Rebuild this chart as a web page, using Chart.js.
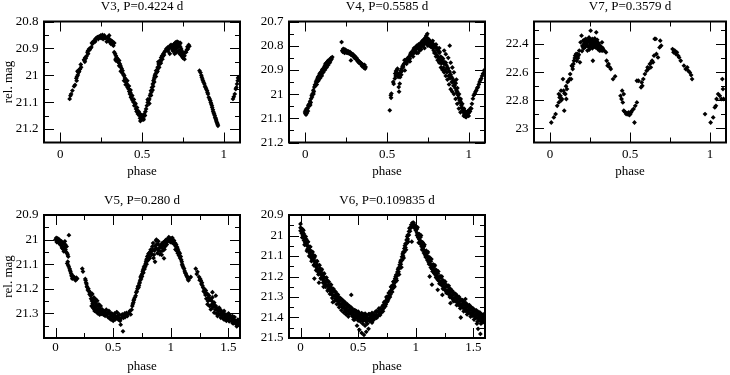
<!DOCTYPE html>
<html><head><meta charset="utf-8">
<script src="https://cdn.jsdelivr.net/npm/chart.js@4/dist/chart.umd.min.js"></script>
<style>
html,body{margin:0;padding:0;background:#fff;width:730px;height:375px;overflow:hidden}
canvas{position:absolute;display:block}
</style></head><body>
<canvas id="c1" width="245" height="190" style="left:0px;top:0px"></canvas>
<canvas id="c2" width="245" height="190" style="left:245px;top:0px"></canvas>
<canvas id="c3" width="240" height="190" style="left:490px;top:0px"></canvas>
<canvas id="c4" width="245" height="181" style="left:0px;top:194px"></canvas>
<canvas id="c5" width="245" height="181" style="left:245px;top:194px"></canvas>
<script>
// ---------------- data ----------------
const titles = ["V3, P=0.4224 d", "V4, P=0.5585 d", "V7, P=0.3579 d", "V5, P=0.280 d", "V6, P=0.109835 d"];
const xTicksTop = [0, 0.5, 1];
const xTicksBottom = [0, 0.5, 1, 1.5];
const v3YTicks = [20.8, 20.9, 21, 21.1, 21.2];
const v4YTicks = [20.7, 20.8, 20.9, 21, 21.1, 21.2];
const v7YTicks = [22.4, 22.6, 22.8, 23];
const v5YTicks = [20.9, 21, 21.1, 21.2, 21.3];
const v6YTicks = [20.9, 21, 21.1, 21.2, 21.3, 21.4, 21.5];

// [phase, relative magnitude]
const v3Points = [
[0.057,21.088],[0.062,21.076],[0.066,21.07],[0.074,21.057],[0.084,21.041],[0.090,21.036],
[0.098,21.011],[0.102,21.005],[0.107,20.999],[0.111,20.99],[0.115,20.986],[0.119,20.978],[0.121,20.976],[0.127,20.970],
[0.145,20.942],[0.148,20.945],[0.152,20.934],[0.156,20.937],[0.160,20.929],
[0.166,20.914],[0.170,20.908],[0.176,20.902],[0.180,20.905],[0.186,20.899],
[0.193,20.88],[0.197,20.883],[0.201,20.875],[0.205,20.877],[0.209,20.871],[0.213,20.875],[0.217,20.865],
[0.222,20.862],[0.227,20.858],[0.232,20.865],[0.238,20.855],[0.243,20.86],[0.248,20.852],[0.253,20.858],[0.258,20.850],
[0.262,20.865],[0.268,20.855],[0.273,20.862],[0.279,20.862],[0.284,20.875],[0.289,20.858],[0.294,20.87],[0.299,20.852],
[0.304,20.877],[0.309,20.883],[0.314,20.872],[0.320,20.875],[0.325,20.89],[0.330,20.88],
[0.10,21.02],[0.105,20.985],[0.125,20.96],[0.15,20.95],[0.17,20.92],[0.19,20.895],[0.215,20.865],[0.25,20.862],
[0.27,20.852],[0.30,20.865],[0.32,20.885],
[0.330,20.914],[0.335,20.92],[0.340,20.927],[0.338,20.94],[0.345,20.934],[0.350,20.939],[0.352,20.95],[0.357,20.952],
[0.360,20.945],[0.365,20.958],[0.368,20.965],[0.371,20.97],[0.376,20.976],[0.381,20.983],[0.378,20.99],[0.385,20.995],
[0.388,21.0],[0.391,21.001],[0.395,21.01],[0.398,21.014],[0.402,21.026],[0.405,21.02],[0.408,21.032],[0.412,21.045],
[0.415,21.04],[0.418,21.051],[0.422,21.06],[0.426,21.07],[0.429,21.065],[0.432,21.082],[0.436,21.08],[0.439,21.088],
[0.443,21.094],[0.448,21.1],[0.453,21.113],[0.458,21.11],[0.463,21.125],[0.467,21.135],[0.471,21.13],[0.475,21.144],
[0.479,21.14],[0.484,21.15],[0.488,21.16],[0.494,21.157],[0.498,21.148],[0.504,21.153],[0.508,21.16],[0.514,21.144],
[0.518,21.15],[0.521,21.135],[0.525,21.125],
[0.34,20.945],[0.36,20.965],[0.37,20.985],[0.39,21.02],[0.40,21.035],[0.41,21.02],[0.42,21.04],[0.43,21.055],
[0.44,21.075],[0.45,21.09],[0.46,21.105],[0.47,21.12],[0.48,21.135],[0.49,21.145],[0.50,21.165],[0.51,21.165],[0.49,21.17],
[0.530,21.113],[0.535,21.101],[0.540,21.094],[0.545,21.088],[0.549,21.076],[0.552,21.07],[0.555,21.057],[0.558,21.062],
[0.561,21.045],[0.566,21.032],[0.568,21.041],[0.570,21.02],[0.574,21.014],[0.576,21.007],[0.579,21.0],[0.582,20.995],
[0.586,20.983],[0.590,20.99],[0.596,20.97],[0.599,20.975],[0.602,20.958],[0.606,20.96],[0.611,20.945],[0.614,20.95],
[0.617,20.934],[0.623,20.927],[0.627,20.93],[0.631,20.92],[0.637,20.914],[0.642,20.91],[0.648,20.902],[0.653,20.907],
[0.535,21.09],[0.545,21.105],[0.555,21.075],[0.565,21.055],[0.575,21.025],[0.585,21.005],[0.595,20.985],[0.605,20.97],
[0.615,20.955],[0.625,20.94],[0.635,20.925],[0.60,20.95],
[0.658,20.896],[0.663,20.9],[0.668,20.899],[0.672,20.89],[0.678,20.887],[0.683,20.895],[0.689,20.892],[0.694,20.885],
[0.699,20.883],[0.704,20.893],[0.709,20.889],[0.714,20.88],[0.719,20.88],[0.724,20.892],[0.730,20.887],[0.735,20.895],
[0.740,20.902],[0.744,20.91],[0.748,20.916],[0.752,20.922],[0.756,20.929],[0.760,20.927],[0.765,20.914],[0.770,20.914],
[0.775,20.905],[0.778,20.894],[0.781,20.902],[0.786,20.887],[0.790,20.892],[0.700,20.905],[0.710,20.9],[0.720,20.895],
[0.728,20.908],[0.738,20.912],[0.686,20.905],
[0.66,20.91],[0.67,20.92],[0.69,20.91],[0.70,20.92],[0.71,20.915],[0.72,20.91],[0.73,20.92],[0.74,20.925],
[0.75,20.935],[0.76,20.94],[0.755,20.92],[0.745,20.93],[0.735,20.88],[0.725,20.878],[0.715,20.875],[0.705,20.878],[0.695,20.9],
[0.852,20.983],[0.858,20.99],[0.863,21.0],[0.866,21.007],[0.870,21.014],[0.873,21.02],[0.877,21.026],[0.882,21.032],
[0.886,21.041],[0.889,21.045],[0.893,21.051],[0.898,21.057],[0.901,21.064],[0.904,21.07],[0.909,21.082],[0.914,21.088],
[0.918,21.094],[0.921,21.101],[0.924,21.107],[0.928,21.113],[0.930,21.12],[0.934,21.128],[0.936,21.135],[0.939,21.14],
[0.942,21.144],[0.945,21.15],[0.948,21.157],[0.951,21.16],[0.953,21.165],[0.955,21.17],[0.958,21.175],[0.961,21.178],
[0.963,21.183],[0.965,21.188],
[1.057,21.088],[1.062,21.08],[1.068,21.07],[1.074,21.051],[1.078,21.045],[1.082,21.032],[1.086,21.02],[1.088,21.01],[1.092,21.007]
];

const v4Points = [
[-0.002,21.074],[0.0,21.08],[0.002,21.067],[0.004,21.085],[0.006,21.072],[0.008,21.06],[0.01,21.078],[0.014,21.06],
[0.016,21.07],[0.018,21.046],[0.022,21.05],[0.026,21.039],[0.029,21.03],[0.033,21.035],[0.035,21.019],[0.039,21.005],
[0.041,21.012],[0.045,20.998],[0.049,20.984],[0.052,20.99],[0.055,20.971],[0.059,20.961],[0.062,20.966],[0.065,20.95],
[0.069,20.943],[0.072,20.948],[0.075,20.936],[0.077,20.93],[0.079,20.929],[0.082,20.935],[0.084,20.923],[0.086,20.93],
[0.088,20.915],[0.09,20.92],[0.092,20.928],[0.094,20.91],[0.096,20.912],[0.098,20.922],[0.1,20.906],[0.102,20.915],
[0.104,20.898],[0.107,20.905],[0.11,20.895],[0.113,20.9],[0.116,20.888],[0.118,20.895],[0.12,20.881],[0.122,20.89],
[0.124,20.874],[0.127,20.88],[0.13,20.87],[0.133,20.875],[0.136,20.865],[0.139,20.87],[0.141,20.861],[0.146,20.865],
[0.151,20.857],[0.154,20.862],[0.157,20.851],[0.161,20.855],[0.165,20.847],
[0.03,21.045],[0.05,21.0],[0.07,20.96],[0.08,20.945],[0.09,20.935],[0.1,20.925],[0.11,20.91],[0.12,20.9],
[0.13,20.89],[0.14,20.88],[0.15,20.87],
[0.222,20.785],[0.226,20.82],[0.229,20.825],[0.232,20.813],[0.236,20.82],[0.24,20.83],[0.242,20.815],[0.246,20.822],
[0.25,20.828],[0.253,20.82],[0.257,20.83],[0.26,20.825],[0.263,20.824],[0.267,20.832],[0.27,20.828],[0.273,20.826],
[0.276,20.835],[0.279,20.861],[0.281,20.838],[0.283,20.833],[0.287,20.84],[0.29,20.835],[0.293,20.837],[0.297,20.845],
[0.3,20.85],[0.303,20.843],[0.307,20.848],[0.31,20.855],[0.314,20.851],[0.318,20.858],[0.321,20.865],[0.324,20.861],
[0.328,20.87],[0.331,20.866],[0.334,20.868],[0.338,20.876],[0.341,20.872],[0.344,20.874],[0.348,20.885],[0.351,20.878],
[0.354,20.881],[0.358,20.89],[0.362,20.879],[0.366,20.895],[0.369,20.888],
[0.517,21.067],[0.523,21.005],[0.527,20.998],[0.525,21.015],[0.538,20.95],[0.541,20.958],[0.548,20.936],[0.55,20.915],
[0.553,20.925],[0.555,20.905],[0.558,20.909],[0.561,20.9],[0.564,20.895],[0.566,20.915],[0.568,20.929],[0.57,20.92],
[0.572,20.971],[0.574,20.99],[0.578,20.957],[0.58,20.93],[0.583,20.91],[0.585,20.902],[0.587,20.92],[0.589,20.895],
[0.592,20.905],[0.595,20.885],[0.599,20.888],[0.602,20.878],[0.605,20.874],[0.607,20.86],[0.609,20.902],[0.612,20.87],
[0.615,20.86],[0.619,20.867],[0.622,20.855],[0.625,20.865],[0.629,20.861],[0.632,20.85],[0.635,20.845],[0.64,20.854],
[0.643,20.835],[0.646,20.83],[0.65,20.84],[0.653,20.825],[0.656,20.835],[0.66,20.833],[0.663,20.815],[0.666,20.81],
[0.67,20.82],[0.673,20.825],[0.676,20.805],[0.68,20.813],[0.683,20.8],[0.686,20.81],[0.69,20.806],[0.693,20.795],
[0.697,20.815],[0.701,20.799],[0.704,20.79],[0.707,20.805],[0.711,20.792],[0.714,20.782],[0.717,20.8],[0.721,20.785],
[0.724,20.775],[0.727,20.795],[0.731,20.771],[0.734,20.785],[0.737,20.765],[0.741,20.758],[0.744,20.78],[0.747,20.751],
[0.75,20.77],[0.753,20.79],[0.757,20.775],[0.76,20.8],[0.763,20.78],[0.766,20.795],[0.769,20.805],
[0.62,20.875],[0.64,20.865],[0.66,20.845],[0.68,20.83],[0.70,20.82],[0.72,20.8],[0.74,20.79],[0.76,20.785],
[0.78,20.78],[0.80,20.795],[0.82,20.81],[0.69,20.83],[0.71,20.815],[0.73,20.81],[0.75,20.8],
[0.772,20.785],[0.775,20.8],[0.779,20.81],[0.782,20.792],[0.786,20.82],[0.789,20.805],[0.792,20.799],[0.796,20.83],
[0.799,20.81],[0.802,20.806],[0.806,20.84],[0.809,20.82],[0.813,20.813],[0.816,20.85],[0.819,20.83],[0.823,20.826],
[0.826,20.86],[0.829,20.845],[0.833,20.874],[0.836,20.85],[0.84,20.865],[0.843,20.854],[0.846,20.89],[0.85,20.875],
[0.853,20.868],[0.857,20.9],[0.86,20.87],[0.864,20.881],[0.867,20.91],[0.87,20.89],[0.874,20.895],[0.877,20.925],
[0.88,20.905],[0.884,20.909],[0.886,20.935],[0.884,20.8],[0.89,20.92],[0.894,20.929],[0.897,20.95],[0.9,20.935],
[0.904,20.95],[0.907,20.965],[0.91,20.945],[0.914,20.964],[0.918,20.975],[0.921,20.955],[0.925,20.984],[0.928,20.995],
[0.931,20.975],[0.935,21.005],[0.938,21.015],[0.941,21.0],[0.945,21.026],[0.948,21.035],[0.951,21.02],[0.955,21.046],
[0.958,21.055],[0.961,21.04],[0.965,21.067],[0.968,21.075],[0.971,21.06],[0.974,21.085],[0.976,21.081],[0.979,21.07],
[0.98,21.094],[0.983,21.08],[0.986,21.088],[0.99,21.075],[0.993,21.085],[0.996,21.07],[1.0,21.078],[1.004,21.065],
[1.008,21.072],[1.012,21.058],[1.016,21.06],
[0.85,20.82],[0.86,20.835],[0.875,20.85],[0.89,20.87],[0.9,20.89],[0.91,20.91],[0.925,20.94],
[0.79,20.83],[0.80,20.845],[0.81,20.86],[0.82,20.87],[0.83,20.89],[0.84,20.9],[0.85,20.91],[0.86,20.925],
[0.87,20.94],[0.88,20.96],[0.89,20.98],[0.90,20.99],[0.91,21.0],[0.92,21.02],[0.93,21.04],[0.94,21.06],[0.95,21.075],
[0.93,20.99],[0.95,21.03],[0.96,21.06],[0.97,21.09],[0.985,21.095],[1.0,21.09],
[1.02,21.04],[1.026,21.019],[1.031,21.005],[1.037,20.998],[1.042,20.99],[1.047,20.984],[1.052,20.975],[1.057,20.971],
[1.062,20.96],[1.067,20.95],[1.072,20.942],[1.077,20.936],[1.082,20.925],[1.088,20.915],[1.094,20.902]
];

const v7Points = [
[0.008,22.958],[0.024,22.922],[0.035,22.898],[0.045,22.839],[0.055,22.815],[0.055,22.756],[0.065,22.768],[0.069,22.732],
[0.075,22.791],[0.081,22.649],[0.085,22.732],[0.089,22.874],[0.096,22.756],[0.102,22.791],[0.106,22.72],[0.116,22.661],
[0.122,22.649],[0.126,22.614],[0.132,22.649],[0.136,22.554],[0.142,22.578],[0.146,22.542],[0.15,22.519],[0.157,22.483],
[0.163,22.471],[0.167,22.519],[0.171,22.471],[0.177,22.483],[0.183,22.447],[0.187,22.53],[0.191,22.388],[0.197,22.341],
[0.203,22.412],[0.207,22.376],[0.213,22.4],[0.217,22.424],[0.224,22.364],[0.228,22.388],[0.234,22.447],[0.238,22.376],
[0.244,22.353],[0.248,22.412],[0.254,22.305],[0.258,22.424],[0.264,22.364],[0.268,22.519],[0.272,22.388],[0.278,22.412],
[0.285,22.424],[0.289,22.317],[0.293,22.4],[0.299,22.436],[0.305,22.4],[0.309,22.447],[0.319,22.447],[0.325,22.388],
[0.329,22.447],[0.339,22.447],[0.35,22.459],[0.354,22.519],[0.36,22.554],[0.366,22.542],[0.374,22.566],[0.38,22.578],
[0.394,22.649],[0.407,22.63],
[0.26,22.38],[0.27,22.37],[0.275,22.39],[0.28,22.36],[0.25,22.39],[0.255,22.37],[0.262,22.41],[0.23,22.405],[0.22,22.39],
[0.24,22.42],[0.285,22.38],[0.29,22.41],[0.265,22.43],[0.245,22.44],[0.3,22.42],[0.31,22.43],[0.315,22.44],[0.2,22.45],
[0.21,22.43],[0.18,22.475],[0.175,22.5],[0.165,22.49],[0.155,22.5],[0.14,22.56],[0.11,22.67],[0.1,22.7],[0.09,22.75],
[0.06,22.78],[0.07,22.8],
[0.22,22.42],[0.235,22.39],[0.245,22.36],[0.255,22.4],[0.265,22.39],[0.275,22.42],[0.28,22.4],[0.29,22.39],
[0.295,22.37],[0.30,22.39],[0.31,22.41],[0.32,22.42],[0.33,22.43],[0.215,22.37],[0.205,22.42],
[0.451,22.732],[0.461,22.756],[0.441,22.768],[0.447,22.791],[0.455,22.815],[0.461,22.874],[0.472,22.886],[0.482,22.891],
[0.492,22.886],[0.502,22.898],[0.512,22.874],[0.522,22.862],[0.528,22.958],[0.533,22.839],[0.543,22.815],[0.476,22.898],
[0.496,22.905],[0.466,22.88],[0.487,22.9],[0.507,22.885],
[0.543,22.661],[0.553,22.661],[0.569,22.708],[0.573,22.673],[0.577,22.697],[0.583,22.649],[0.593,22.614],[0.604,22.59],
[0.61,22.566],[0.614,22.578],[0.624,22.542],[0.63,22.566],[0.634,22.53],[0.638,22.519],[0.644,22.53],[0.65,22.483],
[0.654,22.364],[0.661,22.364],[0.665,22.471],[0.675,22.495],[0.685,22.424],[0.689,22.376],[0.695,22.412],
[0.766,22.436],[0.772,22.459],[0.78,22.447],[0.787,22.471],[0.793,22.459],[0.801,22.483],[0.807,22.495],[0.817,22.519],
[0.837,22.554],[0.848,22.578],[0.858,22.566],[0.864,22.59],[0.874,22.602],[0.882,22.621],[0.888,22.649],[0.776,22.45],
[0.969,22.898],[1.004,22.958],[1.02,22.922],[1.03,22.851],[1.041,22.791],[1.051,22.756],[1.061,22.768],[1.071,22.791],
[1.077,22.649],[1.081,22.72],[1.085,22.791],[1.037,22.839]
];

const v5Points = [
[0.0,21.0],[0.006,20.993],[0.01,21.01],[0.014,21.007],[0.018,20.995],[0.023,21.0],[0.026,21.012],[0.029,21.014],
[0.032,21.0],[0.038,21.004],[0.041,21.018],[0.043,21.021],[0.047,21.01],[0.052,21.007],[0.055,21.03],[0.058,21.035],
[0.061,21.02],[0.064,21.014],[0.068,21.04],[0.072,21.048],[0.075,21.03],[0.081,21.007],[0.084,21.02],[0.087,21.041],
[0.09,21.05],[0.096,21.028],[0.101,21.055],[0.105,21.062],[0.11,21.069],[0.116,20.982],[0.101,21.097],[0.106,21.09],
[0.11,21.104],[0.115,21.11],[0.122,21.118],[0.126,21.125],[0.13,21.131],[0.135,21.138],[0.139,21.145],[0.142,21.15],
[0.145,21.159],[0.15,21.148],[0.159,21.152],[0.165,21.16],[0.174,21.166],[0.18,21.155],[0.188,21.159],[0.232,21.118],
[0.238,21.13],
[0.258,21.16],[0.261,21.166],[0.265,21.175],[0.269,21.18],[0.272,21.19],[0.275,21.194],[0.28,21.205],[0.285,21.2],
[0.29,21.21],[0.295,21.222],[0.3,21.214],[0.304,21.228],[0.308,21.24],[0.31,21.225],[0.313,21.27],[0.316,21.25],
[0.319,21.221],[0.322,21.26],[0.324,21.277],[0.328,21.245],[0.33,21.268],[0.333,21.235],[0.336,21.282],[0.339,21.29],
[0.342,21.255],[0.345,21.275],[0.348,21.242],[0.35,21.285],[0.353,21.263],[0.356,21.295],[0.36,21.27],[0.362,21.249],
[0.365,21.285],[0.368,21.3],[0.371,21.284],[0.374,21.27],[0.376,21.263],[0.38,21.292],[0.383,21.305],[0.385,21.297],
[0.388,21.28],[0.391,21.27],[0.395,21.29],[0.4,21.302],[0.405,21.284],[0.41,21.295],[0.415,21.305],[0.42,21.29],
[0.425,21.3],[0.43,21.31],[0.434,21.297],[0.44,21.285],[0.445,21.3],[0.449,21.304],[0.455,21.315],[0.46,21.295],
[0.463,21.29],[0.468,21.32],[0.472,21.3],[0.478,21.311],[0.482,21.325],[0.487,21.3],[0.492,21.304],[0.497,21.315],
[0.5,21.33],[0.503,21.308],[0.507,21.318],[0.512,21.3],[0.516,21.325],[0.521,21.311],[0.526,21.32],[0.53,21.295],
[0.536,21.297],[0.54,21.31],[0.545,21.325],[0.55,21.318],[0.555,21.305],[0.56,21.33],[0.565,21.346],[0.57,21.32],
[0.575,21.31],[0.579,21.304],[0.585,21.373],[0.59,21.318],[0.594,21.311],[0.6,21.3],[0.604,21.315],[0.608,21.304],
[0.615,21.298],[0.623,21.311],[0.63,21.3],[0.637,21.297],[0.645,21.29],[0.652,21.304],[0.66,21.285],[0.666,21.27],
[0.67,21.262],[0.675,21.256],[0.678,21.248],[0.681,21.242],[0.688,21.235],[0.695,21.228],[0.7,21.215],[0.705,21.21],
[0.71,21.2],[0.715,21.19],[0.72,21.195],[0.724,21.187],[0.727,21.178],[0.73,21.173],[0.734,21.165],[0.738,21.152],
[0.742,21.16],[0.745,21.145],[0.75,21.15],[0.753,21.138],[0.756,21.13],[0.759,21.124],[0.762,21.135],[0.765,21.118],
[0.767,21.111],[0.772,21.12],[0.775,21.105],[0.778,21.11],[0.782,21.097],[0.785,21.09],[0.788,21.083],[0.79,21.1],
[0.793,21.078],[0.796,21.069],[0.8,21.085],[0.803,21.065],[0.806,21.058],[0.811,21.055],[0.814,21.07],[0.817,21.076],
[0.82,21.05],[0.825,21.041],[0.829,21.055],[0.834,21.062],[0.837,21.045],[0.84,21.028],[0.843,21.04],[0.846,21.014],
[0.85,21.075],[0.854,21.062],[0.858,21.045],[0.863,21.09],[0.866,21.025],[0.869,21.035],[0.872,21.005],[0.875,21.0],
[0.878,21.02],[0.883,21.055],[0.886,21.04],[0.89,21.018],[0.892,21.007],[0.895,21.045],[0.898,21.035],[0.905,21.06],
[0.908,21.025],[0.912,21.048],[0.916,21.03],[0.921,21.062],[0.924,21.015],[0.927,21.035],[0.93,21.045],[0.933,21.021],
[0.937,21.01],[0.941,21.076],[0.945,21.04],[0.95,21.028],[0.953,21.005],[0.956,21.014],[0.96,21.0],[0.965,21.02],
[0.97,21.007],[0.974,20.998],[0.979,21.0],[0.982,20.99],[0.985,21.007],[0.99,20.993],[0.994,21.0],[0.997,21.01],
[1.0,21.0],[1.004,20.995],[1.008,21.007],[1.011,21.012],[1.014,20.993],[1.018,21.005],[1.022,21.015],[1.028,21.004],
[1.032,21.02],[1.037,21.014],[1.04,21.04],[1.043,21.028],[1.046,21.02],[1.05,21.045],[1.054,21.03],[1.057,21.035],
[1.06,21.055],[1.063,21.042],[1.066,21.048],[1.07,21.065],[1.072,21.062],[1.078,21.055],[1.08,21.075],[1.086,21.069],
[1.09,21.082],[1.095,21.09],[1.098,21.1],[1.101,21.104],[1.105,21.11],[1.11,21.115],[1.115,21.118],[1.12,21.128],
[1.125,21.135],[1.129,21.138],[1.135,21.145],[1.14,21.15],[1.144,21.152],[1.148,21.16],[1.153,21.166],[1.16,21.158],
[1.173,21.152],[1.216,21.118],[1.225,21.14],[1.231,21.131],
[1.245,21.152],[1.25,21.165],[1.255,21.16],[1.26,21.166],[1.265,21.18],[1.27,21.175],[1.274,21.187],[1.28,21.195],
[1.285,21.21],[1.289,21.2],[1.295,21.215],[1.3,21.225],[1.303,21.207],[1.308,21.24],[1.312,21.22],[1.318,21.221],
[1.318,21.263],[1.322,21.25],[1.326,21.235],[1.332,21.228],[1.336,21.27],[1.34,21.245],[1.347,21.242],[1.347,21.284],
[1.352,21.265],[1.356,21.25],[1.361,21.235],[1.361,21.214],[1.365,21.275],[1.37,21.26],[1.376,21.256],[1.376,21.297],
[1.38,21.27],[1.385,21.285],[1.39,21.27],[1.39,21.228],[1.395,21.3],[1.4,21.28],[1.405,21.284],[1.405,21.311],
[1.41,21.29],[1.415,21.3],[1.419,21.277],[1.425,21.305],[1.43,21.285],[1.434,21.29],[1.434,21.318],[1.44,21.3],
[1.445,21.31],[1.448,21.297],[1.452,21.32],[1.457,21.3],[1.462,21.29],[1.462,21.325],[1.467,21.31],[1.472,21.32],
[1.477,21.304],[1.482,21.33],[1.487,21.315],[1.491,21.311],[1.496,21.325],[1.5,21.3],[1.506,21.304],[1.506,21.332],
[1.51,21.318],[1.515,21.31],[1.521,21.318],[1.525,21.33],[1.53,21.315],[1.535,21.311],[1.535,21.339],[1.54,21.325],
[1.545,21.34],[1.549,21.325],[1.553,21.315],[1.558,21.335],[1.564,21.332],[1.568,21.345],[1.572,21.353],[1.578,21.339],
[1.582,21.325],[1.587,21.346],[1.59,21.335],[1.595,21.34]
];

const v6Points = [
[0.00,20.944],[0.00,20.962],[0.00,20.977],[0.01,20.966],[0.01,20.989],[0.02,20.971],[0.02,20.986],[0.02,21.001],
[0.03,20.993],[0.03,21.012],[0.03,21.024],[0.04,21.018],[0.04,21.035],[0.05,21.018],[0.05,21.044],
[0.06,21.034],[0.06,21.052],[0.06,21.067],[0.07,21.053],[0.07,21.076],[0.08,21.056],[0.08,21.071],[0.08,21.086],
[0.09,21.076],[0.09,21.095],[0.09,21.107],[0.10,21.098],[0.10,21.115],[0.11,21.095],[0.11,21.121],
[0.12,21.108],[0.12,21.126],[0.12,21.141],[0.12,21.21],[0.13,21.126],[0.13,21.149],[0.14,21.127],[0.14,21.142],[0.14,21.157],
[0.15,21.145],[0.15,21.164],[0.15,21.176],[0.16,21.166],[0.16,21.183],[0.16,21.23],[0.17,21.161],[0.17,21.187],
[0.18,21.172],[0.18,21.19],[0.18,21.205],[0.19,21.189],[0.19,21.212],[0.20,21.189],[0.20,21.204],[0.20,21.219],[0.20,21.25],
[0.21,21.205],[0.21,21.224],[0.21,21.236],[0.22,21.224],[0.22,21.241],[0.23,21.218],[0.23,21.244],
[0.24,21.228],[0.24,21.246],[0.24,21.261],[0.25,21.243],[0.25,21.266],[0.26,21.241],[0.26,21.256],[0.26,21.271],
[0.27,21.256],[0.27,21.275],[0.27,21.287],[0.28,21.274],[0.28,21.291],[0.28,21.325],[0.29,21.267],[0.29,21.293],
[0.30,21.276],[0.30,21.294],[0.30,21.309],[0.31,21.29],[0.31,21.313],[0.32,21.287],[0.32,21.302],[0.32,21.317],
[0.33,21.301],[0.33,21.32],[0.33,21.332],[0.34,21.318],[0.34,21.335],[0.35,21.309],[0.35,21.335],
[0.36,21.316],[0.36,21.334],[0.36,21.349],[0.37,21.329],[0.37,21.352],[0.38,21.325],[0.38,21.34],[0.38,21.355],
[0.39,21.337],[0.39,21.356],[0.39,21.368],[0.40,21.352],[0.40,21.369],[0.41,21.342],[0.41,21.368],
[0.42,21.347],[0.42,21.365],[0.42,21.38],[0.43,21.358],[0.43,21.381],[0.44,21.352],[0.44,21.367],[0.44,21.382],[0.44,21.29],
[0.45,21.363],[0.45,21.382],[0.45,21.394],[0.46,21.376],[0.46,21.393],[0.46,21.41],[0.47,21.364],[0.47,21.39],[0.47,21.41],
[0.48,21.368],[0.48,21.386],[0.48,21.401],[0.49,21.378],[0.49,21.401],[0.49,21.44],
[0.50,21.371],[0.50,21.386],[0.50,21.401],[0.50,21.415],[0.51,21.38],[0.51,21.399],[0.51,21.411],[0.51,21.46],
[0.52,21.392],[0.52,21.409],[0.52,21.42],[0.53,21.379],[0.53,21.405],[0.53,21.475],
[0.54,21.382],[0.54,21.4],[0.54,21.415],[0.54,21.43],[0.55,21.39],[0.55,21.413],[0.55,21.485],
[0.56,21.381],[0.56,21.396],[0.56,21.411],[0.56,21.44],[0.57,21.389],[0.57,21.408],[0.57,21.42],[0.57,21.47],
[0.58,21.399],[0.58,21.416],[0.58,21.43],[0.59,21.384],[0.59,21.41],[0.59,21.455],
[0.60,21.384],[0.60,21.402],[0.60,21.417],[0.61,21.39],[0.61,21.413],[0.62,21.378],[0.62,21.393],[0.62,21.408],[0.62,21.425],
[0.63,21.383],[0.63,21.402],[0.63,21.414],[0.64,21.39],[0.64,21.407],[0.65,21.372],[0.65,21.398],
[0.66,21.369],[0.66,21.387],[0.66,21.402],[0.67,21.371],[0.67,21.394],[0.68,21.356],[0.68,21.371],[0.68,21.386],
[0.69,21.357],[0.69,21.376],[0.69,21.388],[0.70,21.36],[0.70,21.377],
[0.015,21.01],[0.035,21.045],[0.055,21.075],[0.075,21.1],[0.095,21.125],[0.115,21.145],[0.135,21.17],[0.155,21.19],
[0.175,21.21],[0.195,21.23],[0.215,21.25],[0.235,21.27],[0.255,21.285],[0.275,21.305],[0.295,21.32],[0.315,21.335],
[0.335,21.35],[0.355,21.365],[0.375,21.375],[0.395,21.385],[0.415,21.395],
[0.025,20.975],[0.045,21.005],[0.065,21.03],[0.085,21.055],[0.105,21.08],[0.125,21.1],[0.145,21.125],[0.165,21.145],
[0.185,21.165],[0.205,21.185],[0.225,21.205],[0.245,21.225],[0.265,21.24],[0.285,21.26],[0.305,21.275],[0.325,21.29],
[0.345,21.305],[0.365,21.315],[0.385,21.325],[0.405,21.335],[0.425,21.345],[0.445,21.355],[0.465,21.365],[0.485,21.37],
[0.71,21.345],[0.71,21.362],[0.72,21.338],[0.72,21.355],[0.73,21.326],[0.73,21.345],[0.74,21.318],[0.74,21.336],
[0.75,21.305],[0.75,21.324],[0.76,21.296],[0.76,21.313],[0.77,21.281],[0.77,21.3],[0.78,21.27],[0.78,21.288],
[0.79,21.254],[0.79,21.273],[0.80,21.242],[0.80,21.259],[0.81,21.224],[0.81,21.243],[0.82,21.21],[0.82,21.228],
[0.83,21.192],[0.83,21.211],[0.84,21.178],[0.84,21.195],[0.85,21.158],[0.85,21.177],[0.86,21.143],[0.86,21.16],
[0.87,21.121],[0.87,21.14],[0.88,21.104],[0.88,21.121],[0.89,21.081],[0.89,21.1],[0.90,21.064],[0.90,21.081],
[0.91,21.04],[0.91,21.059],[0.92,21.022],[0.92,21.039],[0.93,20.998],[0.93,21.017],[0.94,20.98],[0.94,20.997],
[0.95,20.962],[0.95,20.979],[0.96,20.948],[0.96,20.962],[0.965,21.03],[0.97,20.938],[0.97,20.952],
[0.715,21.37],[0.735,21.345],[0.755,21.32],[0.775,21.3],[0.795,21.275],[0.815,21.25],[0.835,21.22],[0.855,21.19],
[0.875,21.155],[0.895,21.11],[0.915,21.07],[0.935,21.03],[0.725,21.325],[0.745,21.3],[0.765,21.28],[0.785,21.25],
[0.805,21.225],[0.825,21.2],[0.845,21.165],[0.865,21.13],[0.885,21.09],[0.905,21.05],[0.925,21.005],[0.945,20.965],
[0.98,20.937],[0.98,20.955],[0.99,20.948],[0.99,20.965],[1.00,20.955],[1.00,20.975],
[1.01,20.968],[1.01,20.987],[1.01,20.999],[1.02,20.993],[1.02,21.01],[1.03,20.993],[1.03,21.019],
[1.04,21.009],[1.04,21.027],[1.04,21.042],[1.05,21.031],[1.05,21.054],[1.06,21.034],[1.06,21.049],[1.06,21.064],
[1.07,21.054],[1.07,21.073],[1.07,21.085],[1.08,21.077],[1.08,21.094],[1.09,21.074],[1.09,21.1],
[1.10,21.087],[1.10,21.105],[1.10,21.12],[1.11,21.106],[1.11,21.129],[1.12,21.107],[1.12,21.122],[1.12,21.137],[1.12,21.2],
[1.13,21.125],[1.13,21.144],[1.13,21.156],[1.14,21.146],[1.14,21.163],[1.14,21.24],[1.15,21.141],[1.15,21.167],
[1.16,21.152],[1.16,21.17],[1.16,21.185],[1.17,21.169],[1.17,21.192],[1.18,21.169],[1.18,21.184],[1.18,21.199],
[1.19,21.185],[1.19,21.204],[1.19,21.216],[1.19,21.265],[1.20,21.204],[1.20,21.221],[1.21,21.198],[1.21,21.224],
[1.22,21.207],[1.22,21.225],[1.22,21.24],[1.23,21.222],[1.23,21.245],[1.23,21.29],[1.24,21.22],[1.24,21.235],[1.24,21.25],
[1.25,21.234],[1.25,21.253],[1.25,21.265],[1.26,21.251],[1.26,21.268],[1.27,21.243],[1.27,21.269],
[1.28,21.251],[1.28,21.269],[1.28,21.284],[1.29,21.264],[1.29,21.287],[1.30,21.26],[1.30,21.275],[1.30,21.29],[1.30,21.33],
[1.31,21.273],[1.31,21.292],[1.31,21.304],[1.32,21.289],[1.32,21.306],[1.33,21.28],[1.33,21.306],
[1.34,21.287],[1.34,21.305],[1.34,21.32],[1.35,21.3],[1.35,21.323],[1.36,21.295],[1.36,21.31],[1.36,21.325],
[1.37,21.307],[1.37,21.326],[1.37,21.338],[1.38,21.322],[1.38,21.339],[1.39,21.312],[1.39,21.338],[1.39,21.4],
[1.40,21.318],[1.40,21.336],[1.40,21.351],[1.41,21.33],[1.41,21.353],[1.42,21.325],[1.42,21.34],[1.42,21.355],
[1.43,21.336],[1.43,21.355],[1.43,21.367],[1.43,21.31],[1.44,21.35],[1.44,21.367],[1.45,21.339],[1.45,21.365],
[1.46,21.344],[1.46,21.362],[1.46,21.377],[1.47,21.355],[1.47,21.378],[1.48,21.349],[1.48,21.364],[1.48,21.379],
[1.49,21.36],[1.49,21.379],[1.49,21.391],[1.50,21.374],[1.50,21.391],[1.51,21.363],[1.51,21.389],
[1.52,21.368],[1.52,21.386],[1.52,21.401],[1.53,21.379],[1.53,21.402],[1.53,21.43],[1.54,21.373],[1.54,21.388],[1.54,21.403],[1.54,21.455],
[1.55,21.384],[1.55,21.403],[1.55,21.415],[1.56,21.397],[1.56,21.414],[1.56,21.48],[1.57,21.385],[1.57,21.411],
[1.58,21.389],[1.58,21.407],[1.58,21.422],[1.59,21.399],[1.59,21.422],
[1.025,21.035],[1.055,21.07],[1.085,21.105],[1.115,21.14],[1.145,21.175],[1.175,21.205],[1.205,21.235],[1.235,21.26],
[1.265,21.28],[1.295,21.3],[1.325,21.32],[1.355,21.34],[1.385,21.355],[1.415,21.37],[1.445,21.385],[1.475,21.395],
[1.505,21.41],[1.535,21.42],[1.565,21.43],
[1.015,20.96],[1.045,21.0],[1.075,21.045],[1.105,21.08],[1.135,21.115],[1.165,21.145],[1.195,21.175],[1.225,21.2],
[1.255,21.225],[1.285,21.245],[1.315,21.27],[1.345,21.285],[1.375,21.3],[1.405,21.315],[1.435,21.33],[1.465,21.34],
[1.495,21.355],[1.525,21.365],[1.555,21.375],[1.585,21.385]
];

// ---------------- drawing ----------------
const FONT = "'Liberation Serif','Times New Roman',Times,serif";

const frameTicks = {
  id: 'frameTicks',
  afterDatasetsDraw(chart) {
    const {ctx, chartArea: a} = chart;
    const sx = chart.scales.x, sy = chart.scales.y;
    ctx.save();
    ctx.strokeStyle = '#000';
    ctx.lineWidth = 1;
    const marks = (scale) => {
      const vals = scale.ticks.map(t => t.value);
      const step = vals[1] - vals[0];
      const lo = Math.min(scale.min, scale.max), hi = Math.max(scale.min, scale.max);
      const out = vals.map(v => ({v, len: 10}));
      for (let i = -1; i < vals.length; i++) {
        const v = vals[0] + (i + 0.5) * step;
        if (v > lo + 1e-9 && v < hi - 1e-9) out.push({v, len: 5});
      }
      return out;
    };
    ctx.beginPath();
    for (const m of marks(sx)) {
      const px = Math.round(sx.getPixelForValue(m.v)) + 0.5;
      ctx.moveTo(px, a.bottom); ctx.lineTo(px, a.bottom - m.len);
      ctx.moveTo(px, a.top); ctx.lineTo(px, a.top + m.len);
    }
    for (const m of marks(sy)) {
      const py = Math.round(sy.getPixelForValue(m.v)) + 0.5;
      ctx.moveTo(a.left, py); ctx.lineTo(a.left + m.len, py);
      ctx.moveTo(a.right, py); ctx.lineTo(a.right - m.len, py);
    }
    ctx.stroke();
    ctx.lineWidth = 2;
    ctx.strokeRect(a.left, a.top, a.right - a.left, a.bottom - a.top);
    ctx.restore();
  }
};

const topRow = {titlePadBottom: 8.5, xAxisHeight: 47.5, tickPad: 4.7, phasePadBottom: 10.2};
const bottomRow = {titlePadBottom: 8, xAxisHeight: 37, tickPad: 2.2, phasePadBottom: 0.2};

function makeChart(id, title, pts, xr, yr, xTicks, yTicks, yTitle, L, padRight) {
  const noGrid = {display: false, drawTicks: false, tickLength: 0};
  new Chart(document.getElementById(id), {
    type: 'scatter',
    data: {datasets: [{
      data: pts.map(([p, m]) => ({x: p, y: m})),
      pointStyle: 'rectRot', pointRadius: 2.4, pointBorderWidth: 0,
      backgroundColor: '#000', borderColor: '#000', showLine: false
    }]},
    options: {
      responsive: false, animation: false, devicePixelRatio: 1, events: [],
      layout: {padding: {left: 0, top: 0, right: padRight, bottom: 0}},
      plugins: {
        legend: {display: false}, tooltip: {enabled: false},
        title: {display: true, text: title, fullSize: false, color: '#000',
          font: {family: FONT, size: 13, weight: 'normal', lineHeight: 1},
          padding: {top: 0, bottom: L.titlePadBottom}}
      },
      scales: {
        x: {type: 'linear', position: 'bottom', min: xr[0], max: xr[1],
          grid: noGrid, border: {display: false},
          afterBuildTicks: s => { s.ticks = xTicks.map(v => ({value: v})); },
          afterFit: s => { s.height = L.xAxisHeight; },
          ticks: {color: '#000', font: {family: FONT, size: 13}, padding: L.tickPad,
            maxRotation: 0, autoSkip: false, callback: v => String(v)},
          title: {display: true, text: 'phase', color: '#000',
            font: {family: FONT, size: 13}, padding: {top: 0, bottom: L.phasePadBottom}}},
        y: {type: 'linear', position: 'left', reverse: true, min: yr[0], max: yr[1],
          grid: noGrid, border: {display: false},
          afterBuildTicks: s => { s.ticks = yTicks.map(v => ({value: v})); },
          afterFit: s => { s.width = 44; },
          ticks: {color: '#000', font: {family: FONT, size: 13}, padding: 5.5,
            autoSkip: false, callback: v => String(v)},
          title: {display: yTitle, text: 'rel. mag', color: '#000',
            font: {family: FONT, size: 13}, padding: {top: 1, bottom: 0}}}
      }
    },
    plugins: [frameTicks]
  });
}

makeChart('c1', titles[0], v3Points, [-0.1, 1.1], [20.8, 21.25], xTicksTop, v3YTicks, true, topRow, 5);
makeChart('c2', titles[1], v4Points, [-0.1, 1.1], [20.7, 21.2], xTicksTop, v4YTicks, false, topRow, 5);
makeChart('c3', titles[2], v7Points, [-0.1, 1.1], [22.24, 23.1], xTicksTop, v7YTicks, false, topRow, 1);
makeChart('c4', titles[3], v5Points, [-0.1, 1.6], [20.9, 21.4], xTicksBottom, v5YTicks, true, bottomRow, 5);
makeChart('c5', titles[4], v6Points, [-0.1, 1.6], [20.9, 21.5], xTicksBottom, v6YTicks, false, bottomRow, 5);
</script>
</body></html>
